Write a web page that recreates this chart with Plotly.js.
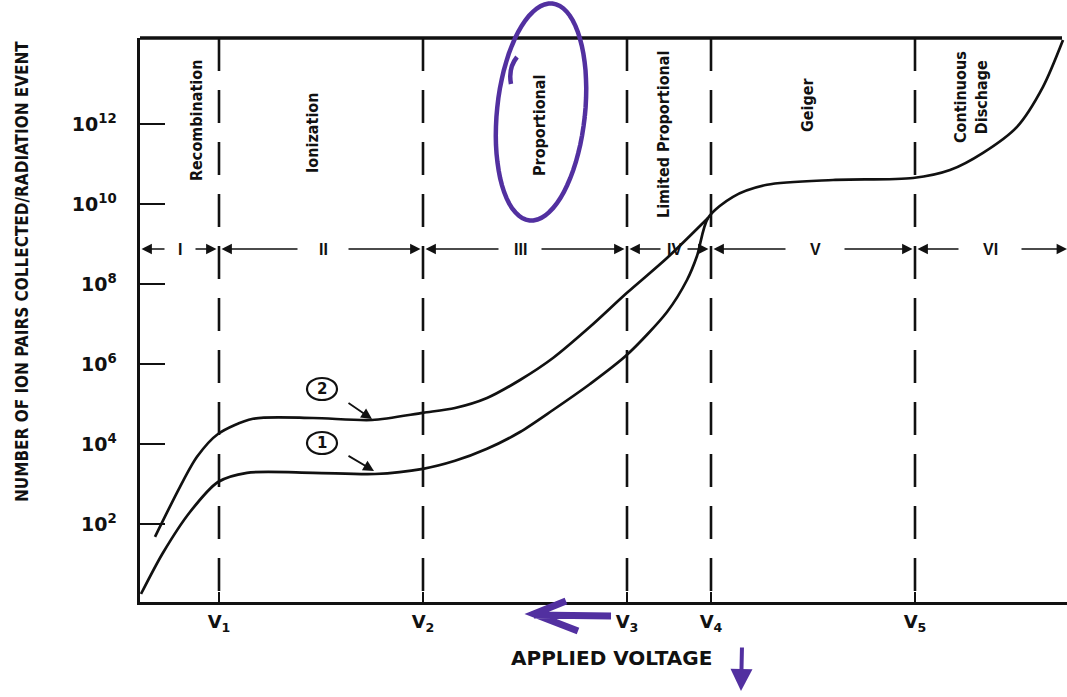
<!DOCTYPE html>
<html>
<head>
<meta charset="utf-8">
<script src="https://cdn.plot.ly/plotly-3.0.1.min.js"></script>
<style>html,body{margin:0;padding:0;background:#fff;}#chart{width:1067px;height:697px;}</style>
</head>
<body>
<div id="chart"></div>
<script>
// ---------- DATA ----------
// Applied voltage (arbitrary units) and log10(number of ion pairs / event)
const curve1Voltage = [0.1, 2.3, 5.0, 7.8, 10.7, 17.3, 23.5, 28.3, 31.5, 34.7, 38.0, 41.3, 45.0, 48.7, 52.7, 54.7, 55.7, 56.8, 59.3, 62.7, 69.3, 77.3, 81.0, 84.3, 87.7, 90.3, 92.3];
const curve1LogN    = [0.26, 1.29, 2.31, 3.06, 3.29, 3.29, 3.26, 3.39, 3.59, 3.89, 4.31, 4.86, 5.51, 6.24, 7.31, 8.11, 8.71, 9.66, 10.19, 10.49, 10.61, 10.66, 10.86, 11.29, 11.94, 12.94, 14.11];
const curve2Voltage = [1.5, 4.0, 5.7, 7.8, 11.3, 17.3, 23.2, 28.3, 31.5, 34.7, 38.0, 41.3, 45.0, 48.7, 52.7, 56.8];
const curve2LogN    = [1.69, 2.94, 3.69, 4.26, 4.64, 4.66, 4.61, 4.79, 4.91, 5.16, 5.61, 6.16, 6.94, 7.79, 8.66, 9.66];

const boundaryVoltages = [7.9, 28.3, 48.7, 57.1, 77.5];
const boundaryLabels   = ['V<sub>1</sub>', 'V<sub>2</sub>', 'V<sub>3</sub>', 'V<sub>4</sub>', 'V<sub>5</sub>'];
const regionNames      = ['Recombination', 'Ionization', 'Proportional', 'Limited Proportional', 'Geiger', 'Continuous<br>Dischage'];
const regionNumerals   = ['I', 'II', 'III', 'IV', 'V', 'VI'];
const yTickExponents   = [2, 4, 6, 8, 10, 12];
const curveLabels      = ['1', '2'];

// ---------- LAYOUT HELPERS ----------
const W = 1067, H = 697, L = 140, R = 0, T = 38, B = 95;
const PW = W - L - R, PH = H - T - B;
const X_MAX = 92.7, Y_MIN = 0.06, Y_MAX = Y_MIN + PH / 40;
const px2x = p => (p - L) / 10;                 // pixel -> voltage units
const py2k = p => Y_MIN + (H - B - p) / 40;     // pixel -> log10 units
const px2paper = p => (p - L) / PW;
const py2paper = p => (H - B - p) / PH;

const INK = '#111';
const PURPLE = '#5230a0';
const cond = '"DejaVu Sans Condensed", "Liberation Sans Narrow", "Arial Narrow", sans-serif';
const wide = '"DejaVu Sans", "Liberation Sans", sans-serif';

// positions of labels (layout only)
const regionTextX = [196, 312, 539, 663, 808, 971];
const regionTextY = [121, 133, 126, 135, 105, 97];
const numeralX    = [4.0, 18.3, 38.0, 53.4, 67.5, 85.0];
const numeralGap  = [1.4, 2.4, 2.0, 1.2, 2.8, 3.0];
const rowK = py2k(249);

const traces = [
  {x: curve1Voltage, y: curve1LogN.map(k => Math.pow(10, k)), type: 'scatter', mode: 'lines',
   line: {color: INK, width: 2.7, shape: 'spline', smoothing: 0.8}, hoverinfo: 'skip', name: '1'},
  {x: curve2Voltage, y: curve2LogN.map(k => Math.pow(10, k)), type: 'scatter', mode: 'lines',
   line: {color: INK, width: 2.7, shape: 'spline', smoothing: 0.8}, hoverinfo: 'skip', name: '2'}
];

const shapes = [];
const annotations = [];

// dashed region boundaries
boundaryVoltages.forEach(v => {
  shapes.push({type: 'line', xref: 'x', yref: 'paper', x0: v, x1: v, y0: 1, y1: 0,
    line: {color: INK, width: 2.6, dash: '33px,19px'}});
});
// top border
shapes.push({type: 'line', xref: 'paper', yref: 'paper', x0: 0, x1: px2paper(1062), y0: 1, y1: 1,
  line: {color: INK, width: 3.5}});

// region names (rotated)
regionNames.forEach((n, i) => {
  annotations.push({text: n, xref: 'paper', yref: 'paper', x: px2paper(regionTextX[i]), y: py2paper(regionTextY[i]),
    textangle: -90, showarrow: false, xanchor: 'center', yanchor: 'middle', align: 'center',
    font: {family: cond, size: 16, color: INK, weight: 'bold'}});
});

// region numerals with arrows
const bounds = [0.15].concat(boundaryVoltages, [X_MAX]);
regionNumerals.forEach((r, i) => {
  annotations.push({text: '<b>' + r + '</b>', x: numeralX[i], y: rowK, xref: 'x', yref: 'y', showarrow: false,
    xanchor: 'center', yanchor: 'middle', font: {family: '"Liberation Sans", sans-serif', size: 16, color: INK}});
  const lo = bounds[i] + (i === 0 ? 0 : 0.25), hi = bounds[i + 1] - (i === 5 ? 0 : 0.25);
  [[numeralX[i] - numeralGap[i], lo], [numeralX[i] + numeralGap[i], hi]].forEach(([tail, head]) => {
    annotations.push({text: '', x: head, y: rowK, ax: tail, ay: rowK, xref: 'x', yref: 'y', axref: 'x', ayref: 'y',
      showarrow: true, arrowhead: 2, arrowsize: 1.3, arrowwidth: 1.6, arrowcolor: INK, standoff: 0, startstandoff: 0});
  });
});

// circled curve labels with pointer arrows (shapes on log axis take data values)
const labelCenters = [[322, 443, 374, 471, 347, 455], [322, 389, 372, 419, 347, 402]];
curveLabels.forEach((t, i) => {
  const [cx, cy, tx, ty, sx, sy] = labelCenters[i];
  shapes.push({type: 'circle', xref: 'x', yref: 'y', x0: px2x(cx - 15), x1: px2x(cx + 15),
    y0: Math.pow(10, py2k(cy + 11)), y1: Math.pow(10, py2k(cy - 11)), line: {color: INK, width: 2.2}});
  annotations.push({text: '<b>' + t + '</b>', x: px2x(cx), y: py2k(cy), xref: 'x', yref: 'y', showarrow: false,
    xanchor: 'center', yanchor: 'middle', font: {family: wide, size: 15, color: INK}});
  annotations.push({text: '', x: px2x(tx), y: py2k(ty), ax: px2x(sx), ay: py2k(sy), xref: 'x', yref: 'y',
    axref: 'x', ayref: 'y', showarrow: true, arrowhead: 2, arrowsize: 1.2, arrowwidth: 1.8, arrowcolor: INK,
    standoff: 0, startstandoff: 0});
});

// axis titles
annotations.push({text: 'NUMBER OF ION PAIRS COLLECTED/RADIATION EVENT', xref: 'paper', yref: 'paper',
  x: px2paper(22), y: py2paper(272), textangle: -90, showarrow: false, xanchor: 'center', yanchor: 'middle',
  font: {family: cond, size: 17, color: INK, weight: 'bold'}});
annotations.push({text: 'APPLIED VOLTAGE', xref: 'paper', yref: 'paper', x: px2paper(611), y: py2paper(658),
  showarrow: false, xanchor: 'center', yanchor: 'middle', font: {family: wide, size: 20, color: INK, weight: 'bold'}});

// handwritten purple annotations
(function () {
  const cx = 541, cy = 112, a = 109, b = 44, th = 6 * Math.PI / 180;
  let d = '';
  for (let i = 0; i <= 72; i++) {
    const t = i / 72 * 2 * Math.PI;
    const ex = b * Math.cos(t), ey = a * Math.sin(t);
    const x = cx + ex * Math.cos(th) - ey * Math.sin(th);
    const y = cy + ex * Math.sin(th) + ey * Math.cos(th);
    d += (i === 0 ? 'M' : 'L') + px2paper(x).toFixed(4) + ',' + py2paper(y).toFixed(4);
  }
  shapes.push({type: 'path', xref: 'paper', yref: 'paper', path: d, line: {color: PURPLE, width: 4.5}});
  const P = (x, y) => px2paper(x).toFixed(4) + ',' + py2paper(y).toFixed(4);
  shapes.push({type: 'path', xref: 'paper', yref: 'paper',
    path: 'M' + P(517, 57) + 'Q' + P(508, 68) + ' ' + P(511, 84), line: {color: PURPLE, width: 4.5}});
  // left-pointing arrow under the axis
  shapes.push({type: 'path', xref: 'paper', yref: 'paper',
    path: 'M' + P(611, 616) + 'L' + P(534, 615) + 'M' + P(566, 601) + 'L' + P(534, 614) + 'L' + P(578, 631),
    line: {color: PURPLE, width: 7}});
})();
annotations.push({text: '', xref: 'paper', yref: 'paper', x: px2paper(741), y: py2paper(691),
  ax: px2paper(742), ay: py2paper(646), axref: 'paper', ayref: 'paper', showarrow: true,
  arrowhead: 2, arrowsize: 1.1, arrowwidth: 4, arrowcolor: PURPLE, standoff: 0, startstandoff: 0});

const supTxt = e => '10<sup>' + e + '</sup>';

const layout = {
  width: W, height: H,
  margin: {l: L, r: R, t: T, b: B, pad: 0},
  paper_bgcolor: '#fff', plot_bgcolor: '#fff',
  showlegend: false,
  xaxis: {
    range: [0, X_MAX], showgrid: false, zeroline: false,
    showline: true, linecolor: INK, linewidth: 2.6,
    tickmode: 'array', tickvals: boundaryVoltages, ticktext: boundaryLabels,
    ticks: 'inside', ticklen: 10, tickwidth: 2, tickcolor: INK, ticklabelstandoff: 2,
    tickfont: {family: wide, size: 18, color: INK, weight: 'bold'}
  },
  yaxis: {
    type: 'log', range: [Y_MIN, Y_MAX], showgrid: false, zeroline: false,
    showline: true, linecolor: INK, linewidth: 3.5,
    tickmode: 'array', tickvals: yTickExponents.map(e => Math.pow(10, e)),
    ticktext: yTickExponents.map(supTxt),
    ticks: 'inside', ticklen: 25, tickwidth: 2, tickcolor: INK, ticklabelstandoff: 16,
    tickfont: {family: wide, size: 19, color: INK, weight: 'bold'}
  },
  shapes: shapes,
  annotations: annotations
};

Plotly.newPlot('chart', traces, layout, {staticPlot: true, displayModeBar: false});
</script>
</body>
</html>
